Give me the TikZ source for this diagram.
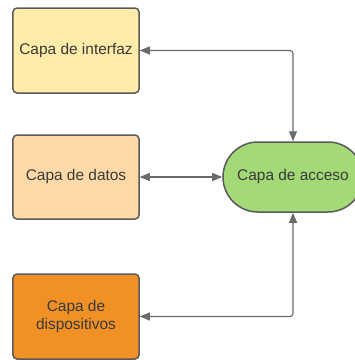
\documentclass[tikz,border=0pt]{standalone}
\usepackage{fontspec}
\setmainfont{Liberation Sans}
\usetikzlibrary{arrows.meta}
\definecolor{bordc}{HTML}{5A5A5A}
\definecolor{linec}{HTML}{6B6B6B}
\definecolor{txtc}{HTML}{3A3A3A}
\definecolor{yel}{HTML}{FFECA9}
\definecolor{peach}{HTML}{FFDAA8}
\definecolor{orng}{HTML}{F09025}
\definecolor{grn}{HTML}{A3D977}
\begin{document}
\begin{tikzpicture}[x=1bp,y=-1bp,
  layerbox/.style={draw=bordc,line width=1.5bp,rounded corners=4bp,minimum width=126bp,minimum height=85bp,
    inner sep=0pt,text=txtc,align=center,font=\fontsize{15.5}{18}\selectfont},
  accessnode/.style={draw=bordc,line width=1.5bp,rounded corners=35bp,minimum width=140bp,minimum height=70bp,
    inner sep=0pt,text=txtc,align=center,font=\fontsize{15.5}{18}\selectfont,fill=grn},
  conn/.style={draw=linec,line width=1.1bp,rounded corners=3bp,{Triangle[length=10bp,width=8bp]}-{Triangle[length=10bp,width=8bp]}}
]
\clip (0,0) rectangle (355,360);
\fill[white] (0,0) rectangle (355,360);
\node[layerbox,fill=yel] (ui) at (76,50.5) {Capa de interfaz};
\node[layerbox,fill=peach,minimum height=84bp] (data) at (76,177) {Capa de datos};
\node[layerbox,fill=orng] (dev) at (76,316.5) {Capa de\\dispositivos};
\node[accessnode] (acc) at (293,177) {Capa de acceso};
\draw[conn] (ui.east) -- (ui.east -| acc.north) -- (acc.north);
\draw[conn] (data.east) -- (acc.west);
\draw[conn] (dev.east) -- (dev.east -| acc.south) -- (acc.south);
\end{tikzpicture}
\end{document}
